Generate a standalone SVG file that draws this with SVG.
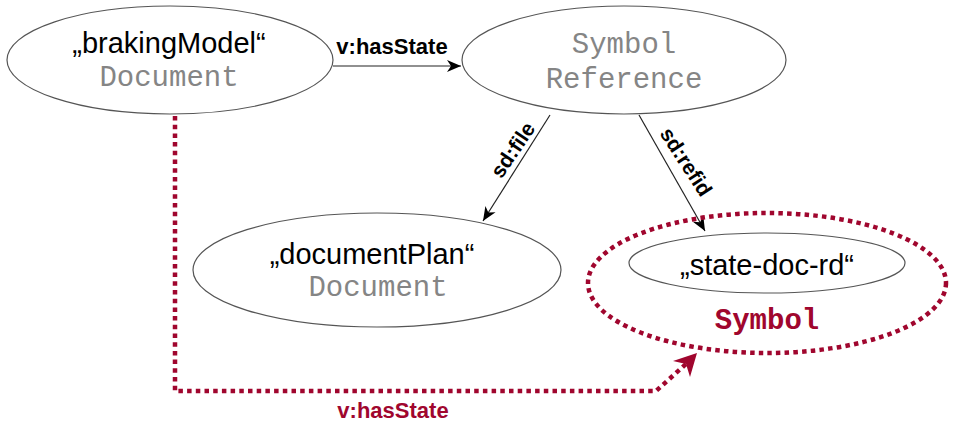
<svg xmlns="http://www.w3.org/2000/svg" width="957" height="424" viewBox="0 0 957 424">
<defs>
<style>
.node{fill:#fff;stroke:#555;stroke-width:1.2}
.lbl{font-family:"Liberation Sans",Arial,sans-serif;font-size:29px;fill:#000;text-anchor:middle}
.typ{font-family:"Liberation Mono","Courier New",monospace;font-size:29px;fill:#858585;text-anchor:middle}
.edge{stroke:#222;stroke-width:1.2;fill:none}
.elbl{font-family:"Liberation Sans",Arial,sans-serif;font-size:21px;font-weight:bold;fill:#000;text-anchor:middle}
.red{stroke:#a0062e;stroke-width:4.5;stroke-dasharray:4.5 4.2;fill:none}
</style>
<marker id="ah" markerWidth="16" markerHeight="14" refX="15" refY="7" orient="auto" markerUnits="userSpaceOnUse">
<path d="M15,7 L1,1 L5,7 L1,13 z" fill="#000"/>
</marker>
</defs>
<g id="connectors">
<line class="edge" x1="333" y1="66" x2="461" y2="66" marker-end="url(#ah)"/>
<text class="elbl" x="392" y="54" style="font-size:22px">v:hasState</text>
<line class="edge" x1="550" y1="115" x2="483" y2="221" marker-end="url(#ah)"/>
<text class="elbl" transform="translate(513,150) rotate(-56)" y="7">sd:file</text>
<line class="edge" x1="639" y1="115" x2="705" y2="231" marker-end="url(#ah)"/>
<text class="elbl" transform="translate(686,162) rotate(57)" y="7">sd:refid</text>
<path class="red" d="M175,116 V391 H656 L686,364"/>
<polygon points="697,353 673,361 686,364 690,377" fill="#a0062e"/>
<text class="elbl" x="393" y="418" style="fill:#a0062e;font-size:22px">v:hasState</text>
</g>
<g id="brakingModel">
<ellipse class="node" cx="170" cy="60" rx="163" ry="54"/>
<text class="lbl" x="169" y="53">„brakingModel“</text>
<text class="typ" x="169" y="86">Document</text>
</g>
<g id="symbolReference">
<ellipse class="node" cx="624" cy="60" rx="162" ry="54"/>
<text class="typ" x="624" y="53">Symbol</text>
<text class="typ" x="624" y="88">Reference</text>
</g>
<g id="documentPlan">
<ellipse class="node" cx="377" cy="270" rx="184" ry="57"/>
<text class="lbl" x="372" y="264">„documentPlan“</text>
<text class="typ" x="378" y="296">Document</text>
</g>
<g id="symbol">
<ellipse class="red" cx="767" cy="283" rx="179" ry="70"/>
<ellipse class="node" cx="767" cy="263" rx="138" ry="30"/>
<text class="lbl" x="767" y="275">„state-doc-rd“</text>
<text class="typ" x="767" y="329" style="fill:#a0062e;font-weight:bold">Symbol</text>
</g>
</svg>
